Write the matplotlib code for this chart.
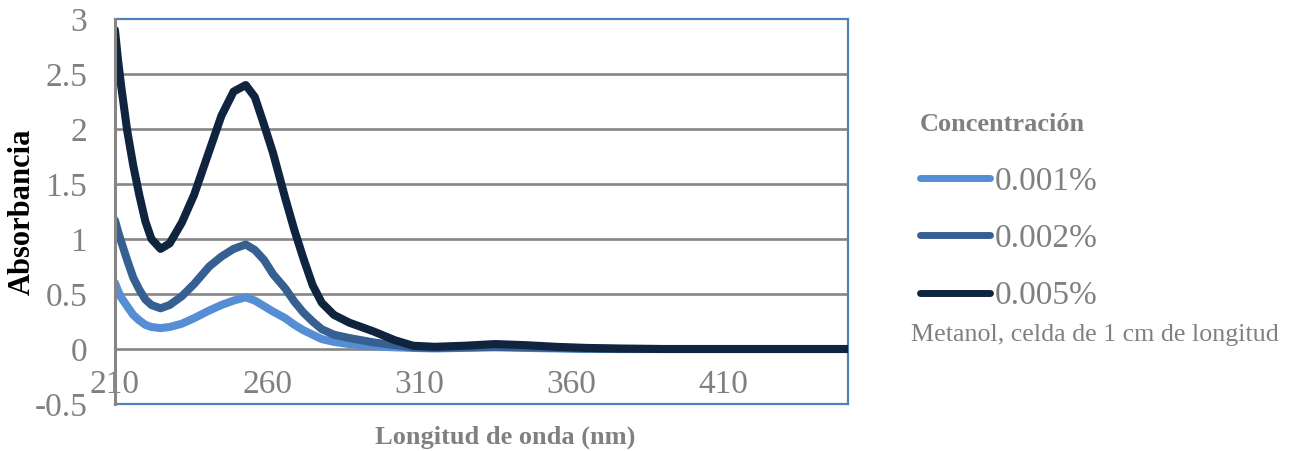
import matplotlib.pyplot as plt
import numpy as np

plt.rcParams['font.family'] = ['Liberation Serif', 'DejaVu Serif']

# wavelength (nm) and absorbance
wavelength = [210, 211, 212, 214, 216, 218, 220, 222, 225, 228, 232, 236, 241, 245, 249, 253,
              256, 259, 262, 266, 269, 272, 275, 278, 282, 287, 295, 302, 308, 315, 325, 335,
              345, 355, 365, 375, 390, 410, 430, 451]
abs_001 = [0.60, 0.53, 0.47, 0.39, 0.31, 0.26, 0.22, 0.20, 0.19, 0.20, 0.23, 0.28, 0.35, 0.40, 0.44, 0.47,
           0.44, 0.39, 0.34, 0.28, 0.22, 0.17, 0.13, 0.09, 0.065, 0.045, 0.025, 0.015, 0.01, 0.005, 0.01, 0.015,
           0.01, 0.005, 0.0, 0.0, 0.0, 0.0, 0.0, 0.0]
abs_002 = [1.17, 1.07, 0.98, 0.81, 0.65, 0.54, 0.45, 0.40, 0.37, 0.40, 0.48, 0.59, 0.75, 0.84, 0.91, 0.95,
           0.90, 0.81, 0.68, 0.55, 0.43, 0.33, 0.25, 0.18, 0.13, 0.10, 0.06, 0.035, 0.015, 0.01, 0.015, 0.02,
           0.015, 0.01, 0.005, 0.0, 0.0, 0.0, 0.0, 0.0]
abs_005 = [2.90, 2.63, 2.40, 1.99, 1.67, 1.40, 1.16, 1.00, 0.91, 0.96, 1.15, 1.40, 1.80, 2.12, 2.34, 2.40,
           2.29, 2.04, 1.78, 1.37, 1.08, 0.82, 0.58, 0.42, 0.31, 0.24, 0.16, 0.08, 0.03, 0.02, 0.03, 0.045,
           0.035, 0.02, 0.01, 0.005, 0.0, 0.0, 0.0, 0.0]

series = [('0.001%', abs_001, '#558ED5'),
          ('0.002%', abs_002, '#376092'),
          ('0.005%', abs_005, '#10243F')]

xticks = [210, 260, 310, 360, 410]
yticks = [-0.5, 0, 0.5, 1, 1.5, 2, 2.5, 3]
ytick_labels = ['-0.5', '0', '0.5', '1', '1.5', '2', '2.5', '3']

gray = '#808080'

fig = plt.figure(figsize=(12.93, 4.51), dpi=100)
ax = fig.add_axes([0.0889, 0.1042, 0.5669, 0.8537])

for y in yticks[1:-1]:
    ax.axhline(y, color='#868686', lw=1.9, zorder=1)

for label, vals, col in series:
    ax.plot(wavelength, vals, color=col, lw=5.8, label=label,
            solid_joinstyle='round', solid_capstyle='round', zorder=3)

ax.set_xlim(210, 451)
ax.set_ylim(-0.5, 3)
ax.set_xticks(xticks)
ax.set_xticklabels([str(t) for t in xticks])
ax.set_yticks(yticks)
ax.set_yticklabels(ytick_labels)
ax.tick_params(axis='x', length=0, pad=-25, labelsize=24, labelcolor=gray)
ax.tick_params(axis='y', length=0, pad=20, labelsize=24, labelcolor=gray)

for side in ['top', 'right', 'bottom']:
    ax.spines[side].set_color('#4F81BD')
    ax.spines[side].set_linewidth(1.6)
ax.spines['left'].set_color('#868686')
ax.spines['left'].set_linewidth(2.2)
ax.spines['left'].set_zorder(4)

fig.text(0.017, 0.531, 'Absorbancia', rotation=90, ha='center', va='center',
         fontsize=22, fontweight='bold', color='black')
fig.text(0.391, 0.031, 'Longitud de onda (nm)', ha='center', va='center',
         fontsize=19, fontweight='bold', color=gray)

fig.text(0.7115, 0.725, 'Concentración', ha='left', va='center',
         fontsize=19, fontweight='bold', color=gray)
leg = ax.legend(loc='upper left', bbox_to_anchor=(0.7115, 0.631), bbox_transform=fig.transFigure,
                frameon=False, fontsize=24, handlelength=2.1, handletextpad=0.15,
                labelspacing=0.8, borderpad=0, borderaxespad=0)
for t in leg.get_texts():
    t.set_color(gray)
for h in leg.get_lines():
    h.set_linewidth(5.0)

fig.text(0.847, 0.257, 'Metanol, celda de 1 cm de longitud', ha='center', va='center',
         fontsize=18.7, color=gray)

fig.savefig('out.png', dpi=100)
